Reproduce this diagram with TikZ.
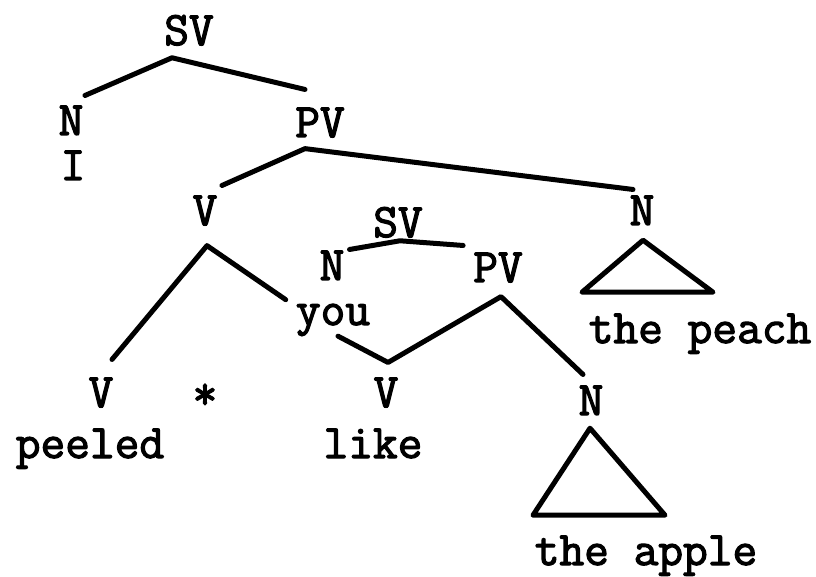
\documentclass[tikz,border=0pt]{standalone}
\usepackage{fontspec}
\usepackage{tikz}
\usetikzlibrary{calc}
\newfontfamily\typewriter[FakeBold=2.5]{Latin Modern Mono}
\tikzset{
	cat/.style   ={inner sep=0pt, anchor=base, font=\typewriter\fontsize{48}{48}\selectfont},
	word/.style  ={cat},
	branch/.style={line width=5pt, line cap=round, line join=round},
}
\begin{document}
\begin{tikzpicture}[x=1pt, y=1pt]
	\useasboundingbox (0,0) rectangle (816,576);
	% upper clause
	\node[cat] (sv1) at (189,531) {SV};
	\node[cat] (n1) at (71,441) {N};
	\node[word] (pron) at (73,396) {I};
	\node[cat] (pv1) at (320,439) {PV};
	\node[cat] (v1) at (205,351) {V};
	\node[cat] (n2) at (642,351) {N};
	\node[word] (peach) at (700,233) {the peach};
	% embedded clause
	\node[cat] (sv2) at (398,339) {SV};
	\node[cat] (n3) at (332,296) {N};
	\node[cat] (pv2) at (498,294) {PV};
	\node[word] (you) at (333,251) {you};
	\node[cat] (v2) at (101,169) {V};
	\node[word] (star) at (205,167) {*};
	\node[cat] (v3) at (386,169) {V};
	\node[word] (peeled) at (90,118) {peeled};
	\node[word] (like) at (373,118) {like};
	\node[cat] (n4) at (591,161) {N};
	\node[word] (apple) at (646,11) {the apple};
	% branches
	\draw[branch] ($(n1.north)+(14,10)$) -- ($(sv1.south)+(-17,-12)$) -- ($(pv1.north)+(-15,18)$);
	\draw[branch] ($(v1.north)+(17,10)$) -- ($(pv1.south)+(-15,-11)$) -- ($(n2.north)+(-9,6)$);
	\draw[branch] ($(v2.north)+(11,18)$) -- ($(v1.south)+(2,-20)$) -- ($(you.north west)+(-10,4)$);
	\draw[branch] ($(n3.north east)+(5,1)$) -- ($(sv2.south)+(2,-3)$) -- ($(pv2.north west)+(-10,7)$);
	\draw[branch] ($(you.south)+(5,0)$) -- ($(v3.north)+(2,15)$) -- ($(pv2.south)+(3,-14)$) -- ($(n4.north)+(-8,11)$);
	% triangles
	\draw[branch] ($(n2.south)+(1,-15)$) -- ++(-61,-52) -- ++(131,0) -- cycle;
	\draw[branch] ($(n4.south)+(-1,-13)$) -- ++(-57,-87) -- ++(132,0) -- cycle;
\end{tikzpicture}
\end{document}
